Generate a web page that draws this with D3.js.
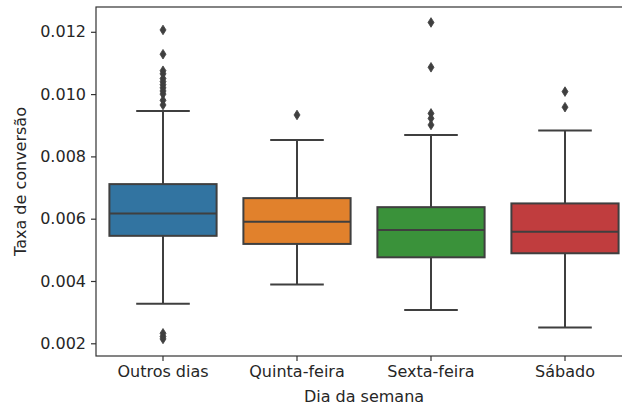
<!DOCTYPE html>
<html>
<head>
<meta charset="utf-8">
<script src="https://cdn.jsdelivr.net/npm/d3@7"></script>
<style>
  html, body { margin: 0; padding: 0; background: #fff; }
  svg { display: block; }
  text { font-family: "DejaVu Sans", sans-serif; fill: #262626; }
</style>
</head>
<body>
<svg id="chart" width="622" height="405"></svg>
<script>
const categories = ["Outros dias", "Quinta-feira", "Sexta-feira", "Sábado"];
const q1 = [0.00545, 0.00519, 0.00476, 0.00489];
const medians = [0.00617, 0.00590, 0.00564, 0.00558];
const q3 = [0.00711, 0.00666, 0.00637, 0.00649];
const whiskerLow = [0.00327, 0.00389, 0.00307, 0.00251];
const whiskerHigh = [0.00946, 0.00853, 0.00869, 0.00883];
const outliers = [
  [0.01206, 0.01128, 0.01075, 0.01065, 0.0105, 0.0104, 0.0103, 0.0102, 0.0101, 0.0100, 0.0098, 0.00965, 0.00232, 0.00222, 0.00214],
  [0.00933],
  [0.01230, 0.01086, 0.00938, 0.00922, 0.00901],
  [0.01008, 0.00958]
];
const yTicks = [0.002, 0.004, 0.006, 0.008, 0.010, 0.012];
const colors = ["#3274a1", "#e1812c", "#3a923a", "#c03d3e"];

const svg = d3.select("#chart");
const mLeft = 96, mRight = 632, mTop = 7, mBottom = 356;
const fs = "16px";

const x = d3.scaleBand().domain(categories).range([mLeft, mRight]).padding(0);
const y = d3.scaleLinear().domain([0.001592, 0.012796]).range([mBottom, mTop]);

const lineColor = "#3f3f3f";
const bw = x.bandwidth() * 0.8;

const data = categories.map((c, i) => ({
  c, q1: q1[i], med: medians[i], q3: q3[i], lo: whiskerLow[i], hi: whiskerHigh[i], out: outliers[i], color: colors[i]
}));

const g = svg.append("g");
data.forEach(d => {
  const cx = x(d.c) + x.bandwidth() / 2;
  g.append("line").attr("x1", cx).attr("x2", cx).attr("y1", y(d.q3)).attr("y2", y(d.hi))
    .attr("stroke", lineColor).attr("stroke-width", 2);
  g.append("line").attr("x1", cx).attr("x2", cx).attr("y1", y(d.q1)).attr("y2", y(d.lo))
    .attr("stroke", lineColor).attr("stroke-width", 2);
  g.append("line").attr("x1", cx - bw / 4).attr("x2", cx + bw / 4).attr("y1", y(d.hi)).attr("y2", y(d.hi))
    .attr("stroke", lineColor).attr("stroke-width", 2);
  g.append("line").attr("x1", cx - bw / 4).attr("x2", cx + bw / 4).attr("y1", y(d.lo)).attr("y2", y(d.lo))
    .attr("stroke", lineColor).attr("stroke-width", 2);
  g.append("rect").attr("x", cx - bw / 2).attr("width", bw)
    .attr("y", y(d.q3)).attr("height", y(d.q1) - y(d.q3))
    .attr("fill", d.color).attr("stroke", lineColor).attr("stroke-width", 2);
  g.append("line").attr("x1", cx - bw / 2).attr("x2", cx + bw / 2).attr("y1", y(d.med)).attr("y2", y(d.med))
    .attr("stroke", lineColor).attr("stroke-width", 2);
  d.out.forEach(v => {
    const py = y(v);
    g.append("path")
      .attr("d", `M${cx},${py - 4.8} L${cx + 3},${py} L${cx},${py + 4.8} L${cx - 3},${py} Z`)
      .attr("fill", lineColor).attr("stroke", lineColor).attr("stroke-width", 0.8);
  });
});

const fmt = d3.format(".3f");
const yAxis = svg.append("g").attr("transform", `translate(${mLeft},0)`)
  .call(d3.axisLeft(y).tickValues(yTicks).tickFormat(fmt).tickSizeOuter(0).tickSize(5).tickPadding(5));
yAxis.select(".domain").remove();
yAxis.selectAll("line").attr("stroke", "#333").attr("stroke-width", 1.2);
yAxis.selectAll("text").style("font-size", fs).attr("fill", "#262626").style("font-family", "DejaVu Sans");

const xAxis = svg.append("g").attr("transform", `translate(0,${mBottom})`)
  .call(d3.axisBottom(x).tickSizeOuter(0).tickSize(5).tickPadding(5));
xAxis.select(".domain").remove();
xAxis.selectAll("line").attr("stroke", "#333").attr("stroke-width", 1.2);
xAxis.selectAll("text").style("font-size", fs).attr("fill", "#262626").style("font-family", "DejaVu Sans");

svg.append("rect").attr("x", mLeft).attr("y", mTop).attr("width", mRight - mLeft).attr("height", mBottom - mTop)
  .attr("fill", "none").attr("stroke", "#333").attr("stroke-width", 1.2);

svg.append("text").attr("x", (mLeft + mRight) / 2).attr("y", 402)
  .attr("text-anchor", "middle").style("font-size", fs).text("Dia da semana");
svg.append("text").attr("transform", `translate(26,${(mTop + mBottom) / 2}) rotate(-90)`)
  .attr("text-anchor", "middle").style("font-size", fs).text("Taxa de conversão");
</script>
</body>
</html>
